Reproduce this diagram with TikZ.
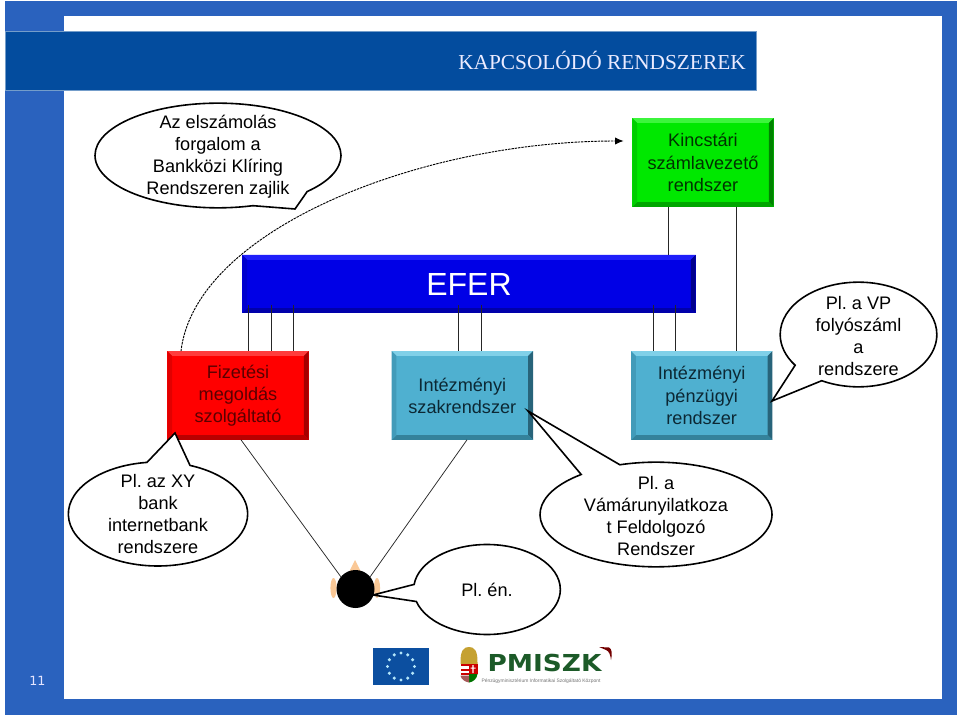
\documentclass[tikz,border=0pt]{standalone}
\usepackage{fontspec}
\setmainfont{Liberation Sans}
\newfontfamily\headfont{Liberation Serif}
\newfontfamily\numfont{DejaVu Sans}
\newfontfamily\logofont{DejaVu Sans}
\usetikzlibrary{arrows.meta, positioning, shapes.geometric, shapes.callouts}
\definecolor{frameblue}{HTML}{2A62BE}
\definecolor{headblue}{HTML}{034C9E}
\definecolor{flagblue}{HTML}{0C4FA0}
\definecolor{logogreen}{HTML}{1C5A28}
\definecolor{skin}{HTML}{FAC896}
\definecolor{tealface}{HTML}{4FB0D0}
\definecolor{tealtop}{HTML}{80D0E8}
\definecolor{tealright}{HTML}{28647A}
\definecolor{tealbottom}{HTML}{34829B}
\definecolor{tealleft}{HTML}{429BB9}
\definecolor{tealtext}{HTML}{0C2834}
\definecolor{redface}{HTML}{FF0000}
\definecolor{redtop}{HTML}{FF3C3C}
\definecolor{redright}{HTML}{A50000}
\definecolor{redbottom}{HTML}{B90000}
\definecolor{redleft}{HTML}{E10000}
\definecolor{redtext}{HTML}{5A0000}
\definecolor{greenface}{HTML}{00E800}
\definecolor{greentop}{HTML}{3CF53C}
\definecolor{greenright}{HTML}{008200}
\definecolor{greenbottom}{HTML}{00A500}
\definecolor{greenleft}{HTML}{00CD00}
\definecolor{greentext}{HTML}{003200}
\definecolor{eferface}{HTML}{0000E6}
\definecolor{efertop}{HTML}{1E1EFA}
\definecolor{eferright}{HTML}{00008C}
\definecolor{eferbottom}{HTML}{0000AA}
\definecolor{eferleft}{HTML}{0000CD}
\newcommand{\bevelw}{3.6pt}
\frenchspacing
\tikzset{
    x=0.75pt,
    y=-0.75pt,
    sys_bevel/.style={
        path picture={
            \fill[#1top] (path picture bounding box.north west) -- (path picture bounding box.north east)
                -- ([xshift=-\bevelw,yshift=-\bevelw]path picture bounding box.north east)
                -- ([xshift=\bevelw,yshift=-\bevelw]path picture bounding box.north west) -- cycle;
            \fill[#1right] (path picture bounding box.north east) -- (path picture bounding box.south east)
                -- ([xshift=-\bevelw,yshift=\bevelw]path picture bounding box.south east)
                -- ([xshift=-\bevelw,yshift=-\bevelw]path picture bounding box.north east) -- cycle;
            \fill[#1bottom] (path picture bounding box.south west) -- (path picture bounding box.south east)
                -- ([xshift=-\bevelw,yshift=\bevelw]path picture bounding box.south east)
                -- ([xshift=\bevelw,yshift=\bevelw]path picture bounding box.south west) -- cycle;
            \fill[#1left] (path picture bounding box.north west) -- (path picture bounding box.south west)
                -- ([xshift=\bevelw,yshift=\bevelw]path picture bounding box.south west)
                -- ([xshift=\bevelw,yshift=-\bevelw]path picture bounding box.north west) -- cycle;
        }
    },
    sys_box/.style={
        rectangle,
        minimum width=106pt,
        minimum height=66.5pt,
        inner sep=0pt,
        outer sep=0pt,
        align=center,
        font=\fontsize{13.6}{16.6}\selectfont
    },
    sys_teal/.style={
        sys_box,
        fill=tealface,
        text=tealtext,
        sys_bevel=teal
    },
    sys_red/.style={
        sys_box,
        fill=redface,
        text=redtext,
        sys_bevel=red
    },
    sys_green/.style={
        sys_box,
        fill=greenface,
        text=greentext,
        sys_bevel=green
    },
    sys_efer/.style={
        sys_box,
        minimum width=340pt,
        minimum height=43.5pt,
        fill=eferface,
        text=white,
        font=\fontsize{24}{28}\selectfont,
        sys_bevel=efer
    },
    bubble/.style={
        ellipse callout,
        draw=black,
        fill=white,
        line width=1.2pt,
        inner sep=0pt,
        outer sep=0pt
    },
    bubble_text/.style={
        align=center,
        inner sep=0pt,
        font=\fontsize{13.6}{16.6}\selectfont
    },
    link/.style={
        draw=black!85,
        line width=0.75pt
    },
    wire/.style={
        draw=black!85,
        line width=0.55pt
    },
    flow_arrow/.style={
        -{Latex[length=6.5pt,width=5.5pt]},
        dash pattern=on 1.8pt off 0.7pt,
        line width=0.7pt
    },
    ear/.style={
        ellipse,
        fill=skin,
        inner sep=0pt,
        minimum width=4.6pt,
        minimum height=15pt
    }
}

\begin{document}
\begin{tikzpicture}
\useasboundingbox (0,0) rectangle (960,716);

% --- Frame ---
\fill[frameblue] (5,1) rectangle (957,715);
\fill[white] (64,16) rectangle (942,699);
\node[rectangle, fill=headblue, draw=headblue!55!white, line width=0.4pt, minimum width=563pt, minimum height=44.5pt, inner sep=0pt, outer sep=0pt] (Header) at (380.5,60.5) {};
\node[text=white!92!blue, font=\fontsize{16}{18}\headfont, inner sep=0pt] (Title) at (602,60) {KAPCSOLÓDÓ RENDSZEREK};
\node[text=white!90!blue, font=\fontsize{9.5}{11}\numfont, inner sep=0pt] (PageNum) at (37.5,681) {11};

% --- Systems ---
\node[sys_green] (Kincstar) at (703,162.5) {Kincstári\\számlavezető\\rendszer};
\node[sys_efer] (Efer) at (469,284) {EFER};
\node[sys_red] (Fizetesi) at (238,395.5) {Fizetési\\megoldás\\szolgáltató};
\node[sys_teal, right=62.25pt of Fizetesi] (Szak) {Intézményi\\szakrendszer};
\node[sys_teal, right=73.5pt of Szak] (Penzugy) {Intézményi\\pénzügyi\\rendszer};

% --- Person ---
\node[ear] (EarLeft) at (333.5,588) {};
\node[ear] (EarRight) at (377,588) {};
\fill[skin] (349,572) -- (355,560) -- (361,572) -- cycle;
\node[circle, fill=black, inner sep=0pt, minimum size=28.5pt] (Head) at (355.5,589) {};

% --- Edges ---
\foreach \x in {248,271,293}
    \draw[link] ([yshift=6pt]Efer.south -| \x,0) -- (Fizetesi.north -| \x,0);
\foreach \x in {458,481}
    \draw[link] ([yshift=6pt]Efer.south -| \x,0) -- (Szak.north -| \x,0);
\foreach \x in {653,675}
    \draw[link] ([yshift=6pt]Efer.south -| \x,0) -- (Penzugy.north -| \x,0);
\draw[link] (Kincstar.south -| 668,0) -- (Efer.north -| 668,0);
\draw[link] (Kincstar.south -| 736,0) -- (Penzugy.north -| 736,0);
\draw[wire] (Fizetesi.south -| 241,0) -- (Head.140);
\draw[wire] (Szak.south -| 467,0) -- (Head.40);

% --- Bubbles ---
\node[bubble, minimum width=184.5pt, minimum height=78.5pt, callout absolute pointer={(295,209)}, callout pointer arc=30] (BubbleKliring) at (218,155.5) {};
\node[bubble_text] at ([yshift=-1pt]BubbleKliring.center) {Az elszámolás\\forgalom a\\Bankközi Klíring\\Rendszeren zajlik};
\node[bubble, minimum width=117.5pt, minimum height=78.5pt, callout absolute pointer={(772,401)}, callout pointer arc=26] (BubbleVp) at (858.5,334.5) {};
\node[bubble_text] at ([yshift=-1pt]BubbleVp.center) {Pl. a VP\\folyószáml\\a\\rendszere};
\node[bubble, minimum width=134.5pt, minimum height=78pt, callout absolute pointer={(175,433)}, callout pointer arc=28] (BubbleBank) at (158,514) {};
\node[bubble_text] at (BubbleBank.center) {Pl. az XY\\bank\\internetbank\\rendszere};
\node[bubble, minimum width=174pt, minimum height=78.5pt, callout absolute pointer={(528,411)}, callout pointer arc=22] (BubbleVam) at (656,514.5) {};
\node[bubble_text] at ([yshift=-1pt]BubbleVam.center) {Pl. a\\Vámárunyilatkoza\\t Feldolgozó\\Rendszer};
\node[bubble, minimum width=110pt, minimum height=67.5pt, callout absolute pointer={(373,595)}, callout pointer arc=22] (BubbleEn) at (487,589.5) {};
\node[bubble_text] at (BubbleEn.center) {Pl. én.};

% --- Curve ---
\coordinate (CurveEnd) at ([xshift=-6.5pt]Kincstar.west |- 0,141);
\draw[flow_arrow] (Fizetesi.north -| 181,0) .. controls (195,230) and (420,141) .. (CurveEnd);

% --- Logos ---
\node[rectangle, fill=flagblue, minimum width=42pt, minimum height=28pt, inner sep=0pt] (Flag) at (401,666.5) {};
\foreach \a in {0,30,...,330}
    \fill[cyan!30!white] (Flag.center) ++(\a:13.5) circle (1.3pt);
\fill[yellow!55!orange!75!black] (460.5,664) .. controls (460,650) and (464,647) .. (469,647) .. controls (474,647) and (478,650) .. (477.5,664) -- cycle;
\foreach \y in {664,668.5,673}
    \fill[red!80!black] (460.5,\y) rectangle (469,\y+2.4);
\fill[red!80!black] (469,664) rectangle (477.5,674);
\fill[white] (472.4,665) rectangle (473.6,673) (470.5,667.5) rectangle (475.5,668.5);
\fill[green!45!black] (469,674) -- (477.5,674) .. controls (477,679) and (473,682) .. (469,682.5) -- cycle;
\fill[red!30!gray] (460.5,675.5) .. controls (461,679) and (465,682) .. (469,682.5) -- (469,675.5) -- cycle;
\node[text=logogreen, font=\fontsize{17.5}{18}\logofont\bfseries, xscale=1.13, inner sep=0pt] (Pmiszk) at (544.5,663.5) {PMISZK};
\node[text=black!55, font=\fontsize{3.7}{4}\selectfont, inner sep=0pt] (PmiszkSub) at (541,681) {Pénzügyminisztérium Informatikai Szolgáltató Központ};
\fill[red!45!black] (599,647) -- (609,647.5) .. controls (612,649) and (612.5,654) .. (611,660) .. controls (610.5,655) and (609,651) .. (606,650) -- cycle;

\end{tikzpicture}
\end{document}
